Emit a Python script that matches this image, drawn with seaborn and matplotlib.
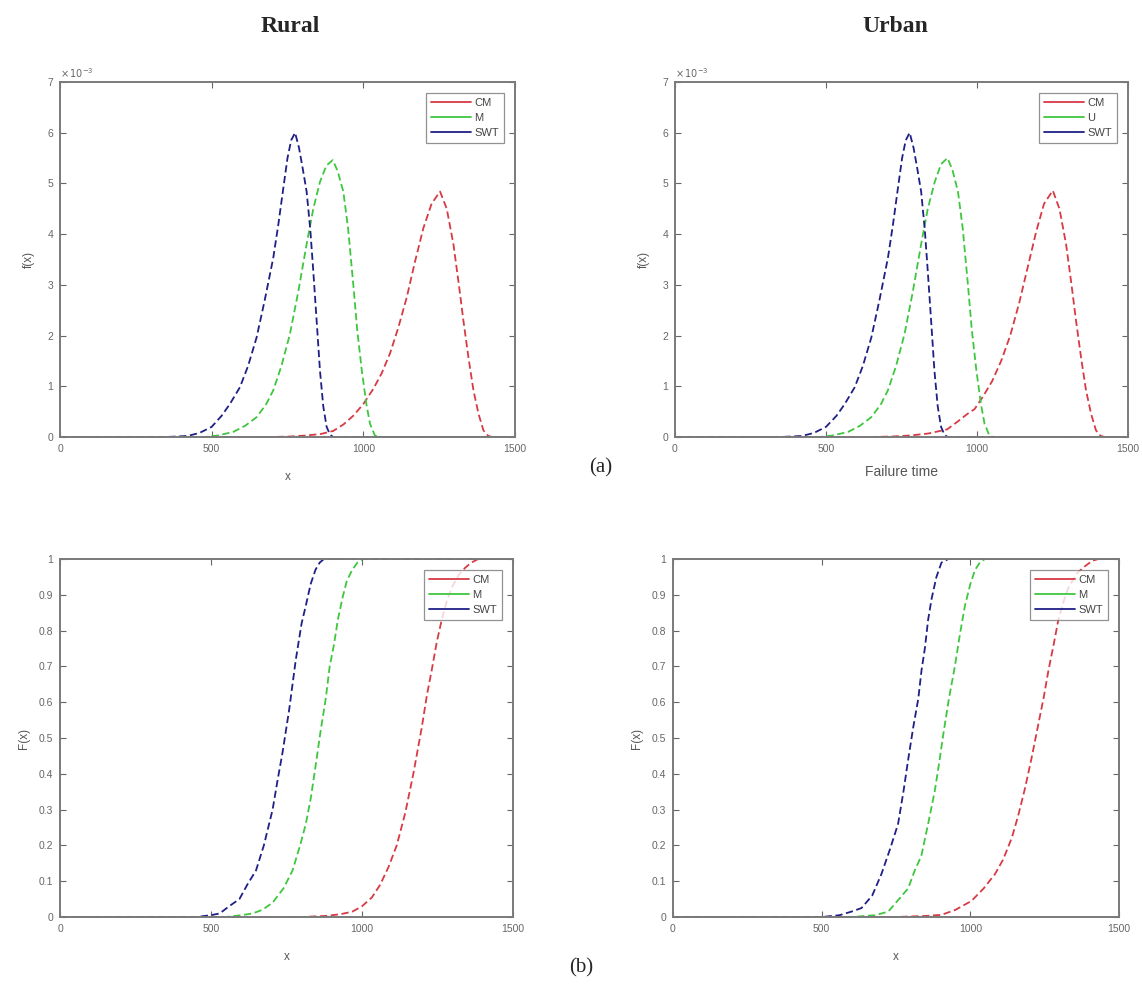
import numpy as np
import pandas as pd
import matplotlib
matplotlib.use("Agg")
import matplotlib.pyplot as plt
import seaborn as sns

# ---------------- data ----------------
series_names_rural = ["CM", "M", "SWT"]
series_names_urban_pdf = ["CM", "U", "SWT"]
series_names_urban_cdf = ["CM", "M", "SWT"]

# PDF values in units of 1e-3
rural_pdf_swt_x = [0, 350, 420, 460, 500, 533, 560, 593, 620, 648, 675, 703, 720, 736, 750, 762, 775, 788, 800, 813, 825, 835, 846, 857, 868, 879, 890, 900, 1500]
rural_pdf_swt_y = [0, 0, 0.02, 0.08, 0.2, 0.42, 0.65, 0.98, 1.4, 1.96, 2.7, 3.53, 4.2, 4.9, 5.5, 5.85, 6.0, 5.7, 5.3, 4.84, 4.1, 3.27, 2.3, 1.31, 0.6, 0.2, 0.05, 0, 0]
rural_pdf_m_x = [0, 480, 520, 571, 610, 648, 680, 703, 730, 758, 785, 813, 835, 857, 878, 899, 915, 934, 950, 967, 980, 995, 1010, 1022, 1038, 1050, 1500]
rural_pdf_m_y = [0, 0, 0.03, 0.1, 0.22, 0.39, 0.65, 0.92, 1.4, 2.03, 2.85, 3.8, 4.5, 5.03, 5.35, 5.46, 5.25, 4.84, 4.1, 3.0, 2.1, 1.31, 0.65, 0.26, 0.03, 0, 0]
rural_pdf_cm_x = [0, 700, 760, 813, 860, 901, 935, 967, 1000, 1033, 1060, 1088, 1115, 1143, 1170, 1198, 1225, 1253, 1275, 1297, 1315, 1330, 1347, 1363, 1380, 1396, 1412, 1425, 1500]
rural_pdf_cm_y = [0, 0, 0.01, 0.03, 0.06, 0.12, 0.25, 0.42, 0.65, 0.95, 1.25, 1.65, 2.15, 2.75, 3.45, 4.12, 4.6, 4.84, 4.5, 3.8, 3.0, 2.29, 1.55, 0.92, 0.45, 0.13, 0.02, 0, 0]

urban_pdf_swt_x = [0, 350, 420, 460, 500, 535, 562, 595, 622, 650, 677, 705, 722, 738, 752, 764, 777, 790, 802, 815, 827, 837, 848, 859, 870, 881, 892, 902, 1500]
urban_pdf_swt_y = [0, 0, 0.02, 0.08, 0.2, 0.42, 0.65, 0.98, 1.4, 1.96, 2.7, 3.53, 4.2, 4.9, 5.5, 5.85, 6.0, 5.7, 5.3, 4.84, 4.1, 3.27, 2.3, 1.31, 0.6, 0.2, 0.05, 0, 0]
urban_pdf_m_x = [0, 480, 522, 573, 612, 650, 682, 705, 732, 760, 787, 815, 837, 860, 881, 902, 918, 937, 953, 970, 983, 998, 1013, 1025, 1041, 1053, 1500]
urban_pdf_m_y = [0, 0, 0.03, 0.1, 0.22, 0.39, 0.65, 0.92, 1.4, 2.03, 2.85, 3.8, 4.5, 5.03, 5.38, 5.5, 5.28, 4.84, 4.1, 3.0, 2.1, 1.31, 0.65, 0.26, 0.03, 0, 0]
urban_pdf_cm_x = [0, 650, 720, 780, 840, 901, 935, 967, 992, 1020, 1050, 1080, 1110, 1140, 1168, 1196, 1222, 1251, 1273, 1295, 1313, 1328, 1345, 1361, 1378, 1394, 1410, 1423, 1500]
urban_pdf_cm_y = [0, 0, 0.01, 0.03, 0.07, 0.15, 0.3, 0.45, 0.55, 0.8, 1.1, 1.5, 2.0, 2.65, 3.35, 4.05, 4.6, 4.86, 4.5, 3.8, 3.0, 2.29, 1.55, 0.92, 0.45, 0.13, 0.02, 0, 0]

# CDF values
rural_cdf_swt_x = [0, 450, 500, 529, 560, 594, 620, 649, 675, 704, 720, 737, 759, 781, 800, 814, 830, 846, 860, 874, 1500]
rural_cdf_swt_y = [0, 0, 0.005, 0.01, 0.03, 0.05, 0.09, 0.13, 0.2, 0.3, 0.38, 0.46, 0.58, 0.72, 0.82, 0.87, 0.93, 0.97, 0.99, 1.0, 1.0]
rural_cdf_m_x = [0, 550, 600, 638, 670, 704, 740, 770, 795, 814, 830, 846, 863, 880, 893, 907, 920, 935, 950, 968, 985, 1001, 1500]
rural_cdf_m_y = [0, 0, 0.005, 0.01, 0.02, 0.04, 0.08, 0.13, 0.2, 0.26, 0.33, 0.42, 0.52, 0.61, 0.7, 0.76, 0.83, 0.89, 0.94, 0.97, 0.99, 1.0, 1.0]
rural_cdf_cm_x = [0, 800, 880, 930, 968, 1000, 1033, 1060, 1088, 1115, 1143, 1170, 1198, 1215, 1231, 1248, 1264, 1280, 1297, 1320, 1341, 1362, 1385, 1500]
rural_cdf_cm_y = [0, 0, 0.003, 0.008, 0.015, 0.03, 0.055, 0.09, 0.14, 0.2, 0.29, 0.4, 0.53, 0.62, 0.69, 0.77, 0.83, 0.88, 0.92, 0.955, 0.975, 0.99, 1.0, 1.0]

urban_cdf_swt_x = [0, 500, 560, 600, 634, 670, 701, 730, 757, 775, 791, 808, 825, 836, 847, 858, 870, 886, 903, 926, 1500]
urban_cdf_swt_y = [0, 0, 0.005, 0.015, 0.025, 0.06, 0.12, 0.19, 0.26, 0.35, 0.44, 0.53, 0.61, 0.69, 0.75, 0.83, 0.89, 0.95, 0.99, 1.0, 1.0]
urban_cdf_m_x = [0, 600, 680, 724, 760, 791, 813, 835, 858, 880, 895, 909, 928, 948, 965, 982, 1000, 1016, 1032, 1049, 1500]
urban_cdf_m_y = [0, 0, 0.005, 0.015, 0.05, 0.08, 0.13, 0.17, 0.26, 0.35, 0.43, 0.51, 0.61, 0.7, 0.79, 0.87, 0.93, 0.97, 0.99, 1.0, 1.0]
urban_cdf_cm_x = [0, 750, 850, 903, 950, 1004, 1045, 1083, 1110, 1139, 1160, 1184, 1205, 1229, 1246, 1263, 1280, 1296, 1313, 1330, 1358, 1386, 1410, 1431, 1500]
urban_cdf_cm_y = [0, 0, 0.003, 0.006, 0.02, 0.045, 0.08, 0.12, 0.16, 0.22, 0.28, 0.36, 0.44, 0.54, 0.61, 0.69, 0.76, 0.83, 0.88, 0.92, 0.96, 0.98, 0.995, 1.0, 1.0]

x_ticks = [0, 500, 1000, 1500]
pdf_ticks = [0, 1, 2, 3, 4, 5, 6, 7]
cdf_ticks = [0, 0.1, 0.2, 0.3, 0.4, 0.5, 0.6, 0.7, 0.8, 0.9, 1]
cdf_ticklabels = ["0", "0.1", "0.2", "0.3", "0.4", "0.5", "0.6", "0.7", "0.8", "0.9", "1"]

colors = {"CM": "#d83a44", "M": "#3fc63f", "U": "#3fc63f", "SWT": "#1f1f86"}

# ---------------- figure ----------------
sns.set_style("white")
plt.rcParams["font.family"] = ["Liberation Sans", "DejaVu Sans"]

W, H = 1142, 993
fig = plt.figure(figsize=(W / 100, H / 100), dpi=100)


def add_ax(l, t, r, b):
    return fig.add_axes([l / W, 1 - b / H, (r - l) / W, (b - t) / H])


ax_tl = add_ax(60, 82, 515, 437)
ax_tr = add_ax(675, 82, 1128, 437)
ax_bl = add_ax(60, 559, 513, 917)
ax_br = add_ax(673, 559, 1119, 917)


def draw(ax, names, xs, ys):
    for name, x, y in zip(names, xs, ys):
        df = pd.DataFrame({"x": x, "y": y})
        sns.lineplot(data=df, x="x", y="y", ax=ax, color=colors[name],
                     linestyle=(0, (4, 2)), linewidth=1.3, label=name,
                     sort=False, estimator=None)


draw(ax_tl, series_names_rural,
     [rural_pdf_cm_x, rural_pdf_m_x, rural_pdf_swt_x],
     [rural_pdf_cm_y, rural_pdf_m_y, rural_pdf_swt_y])
draw(ax_tr, series_names_urban_pdf,
     [urban_pdf_cm_x, urban_pdf_m_x, urban_pdf_swt_x],
     [urban_pdf_cm_y, urban_pdf_m_y, urban_pdf_swt_y])
draw(ax_bl, series_names_rural,
     [rural_cdf_cm_x, rural_cdf_m_x, rural_cdf_swt_x],
     [rural_cdf_cm_y, rural_cdf_m_y, rural_cdf_swt_y])
draw(ax_br, series_names_urban_cdf,
     [urban_cdf_cm_x, urban_cdf_m_x, urban_cdf_swt_x],
     [urban_cdf_cm_y, urban_cdf_m_y, urban_cdf_swt_y])

tick_col = "#666666"
for ax in [ax_tl, ax_tr, ax_bl, ax_br]:
    ax.set_xlim(0, 1500)
    ax.set_xticks(x_ticks)
    ax.set_xticklabels([str(v) for v in x_ticks])
    for s in ax.spines.values():
        s.set_visible(True)
        s.set_color("#7a7a7a")
        s.set_linewidth(1.4)
    ax.tick_params(direction="in", length=4, width=0.8, color="#666666",
                   labelsize=7.5, labelcolor=tick_col, top=True, right=True,
                   bottom=True, left=True, pad=5)
    leg = ax.legend(loc="upper right", fontsize=8, frameon=True, fancybox=False,
                    handlelength=3.6, handletextpad=0.3, borderpad=0.45,
                    labelspacing=0.45, borderaxespad=1.0)
    leg.get_frame().set_edgecolor("#777777")
    leg.get_frame().set_linewidth(0.9)
    for h in leg.get_lines():
        h.set_linestyle("-")
    for t in leg.get_texts():
        t.set_color("#444444")

for ax in [ax_tl, ax_tr]:
    ax.set_ylim(0, 7)
    ax.set_yticks(pdf_ticks)
    ax.set_yticklabels([str(v) for v in pdf_ticks])
    ax.set_ylabel("f(x)", fontsize=8.5, color="#555555", labelpad=9)
    ax.text(0.0, 1.005, r"$\times\,10^{-3}$", transform=ax.transAxes,
            fontsize=7, color=tick_col, ha="left", va="bottom")

for ax in [ax_bl, ax_br]:
    ax.set_ylim(0, 1)
    ax.set_yticks(cdf_ticks)
    ax.set_yticklabels(cdf_ticklabels)
    ax.set_ylabel("F(x)", fontsize=8.5, color="#555555", labelpad=6)

ax_tl.set_xlabel("x", fontsize=8.5, color="#555555", labelpad=12)
ax_tr.set_xlabel("Failure time", fontsize=10, color="#555555", labelpad=8)
ax_bl.set_xlabel("x", fontsize=8.5, color="#555555", labelpad=12)
ax_br.set_xlabel("x", fontsize=8.5, color="#555555", labelpad=12)

serif = ["Liberation Serif", "DejaVu Serif"]
fig.text(290 / W, 1 - 26 / H, "Rural", family=serif, fontweight="bold",
         fontsize=17, ha="center", va="center")
fig.text(895 / W, 1 - 26 / H, "Urban", family=serif, fontweight="bold",
         fontsize=17, ha="center", va="center")
fig.text(601 / W, 1 - 468 / H, "(a)", family=serif, fontsize=15,
         ha="center", va="center")
fig.text(581 / W, 1 - 968 / H, "(b)", family=serif, fontsize=15,
         ha="center", va="center")

fig.savefig("out.png", dpi=100, facecolor="white")
